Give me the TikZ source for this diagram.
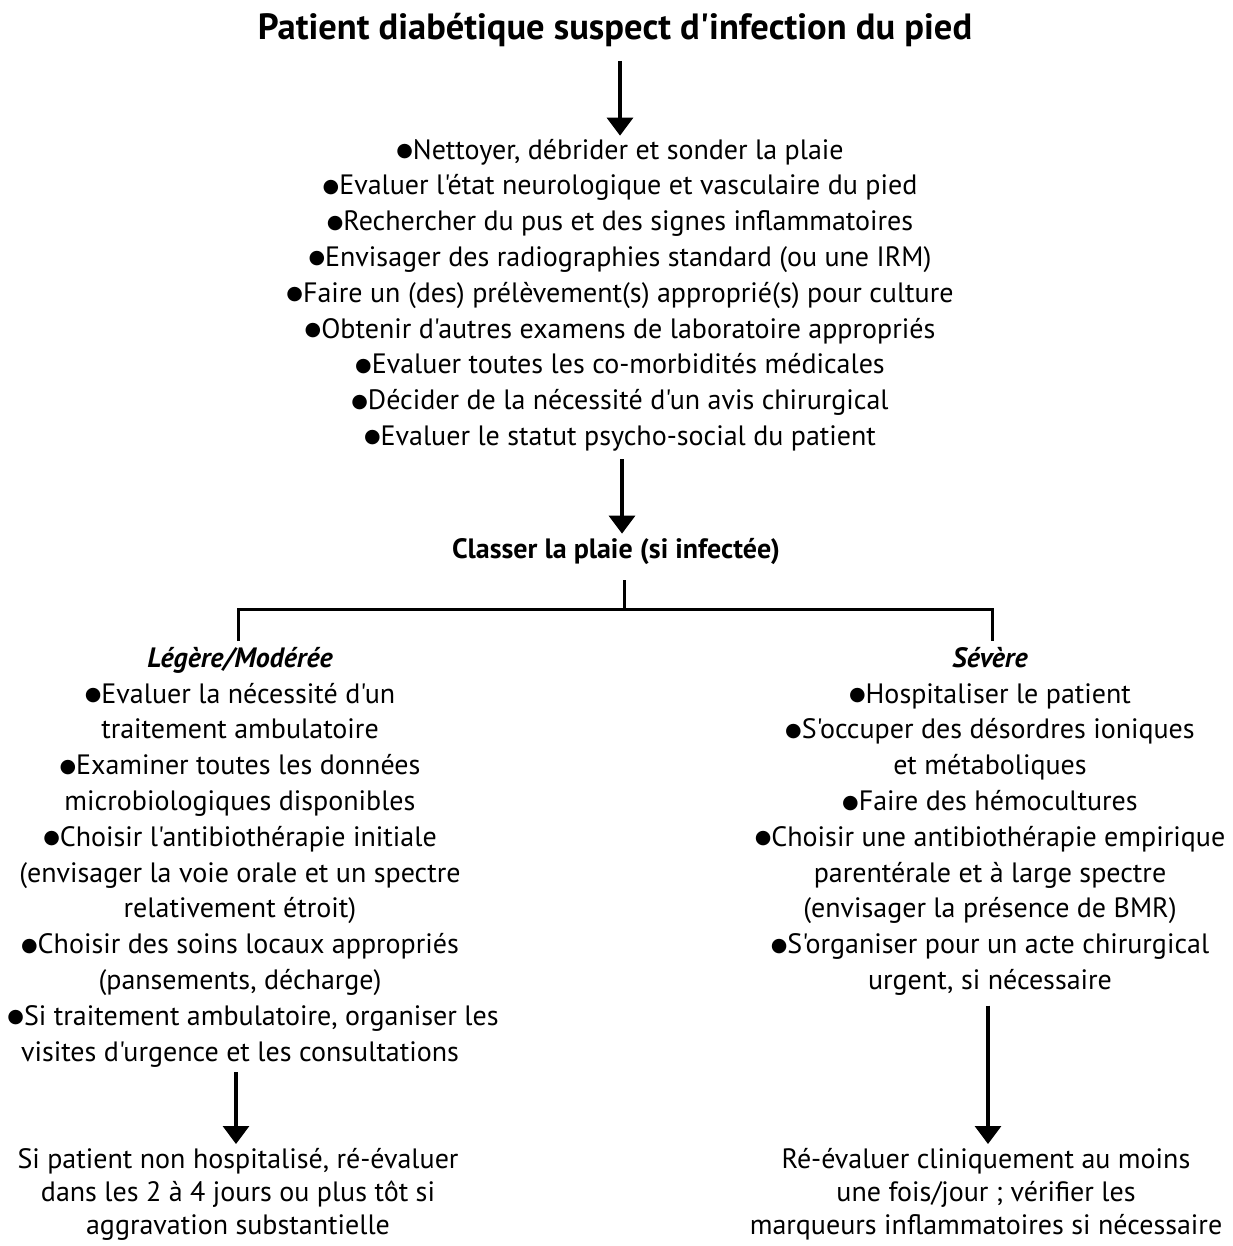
\documentclass[tikz,border=0pt]{standalone}
\usepackage{fontspec}
\setmainfont{PT Sans}[Ligatures=TeXOff]
\newfontfamily\dotfont{DejaVu Sans}
\usetikzlibrary{arrows.meta,positioning}
\newcommand{\bul}{\raisebox{2.5pt}{\dotfont\scalebox{.68}{●}}}

\begin{document}
\begin{tikzpicture}[x=1pt,y=-1pt,
  every node/.style={inner sep=0pt,align=center,font=\fontsize{28}{33}\selectfont},
  wide/.style={font=\fontsize{28}{35.8}\selectfont},
  line/.style={line width=3pt},
  arr/.style={line width=3.2pt,-{Triangle[width=26pt,length=18pt]}}]
  \useasboundingbox (0,0) rectangle (1232,1246);
  \node (title) at (615,30) {\fontsize{36.5}{40}\selectfont\bfseries Patient diabétique suspect d'infection du pied};
  \node [wide] (checks) at (620,295) {\bul Nettoyer, débrider et sonder la plaie\\
    \bul Evaluer l'état neurologique et vasculaire du pied\\
    \bul Rechercher du pus et des signes inflammatoires\\
    \bul Envisager des radiographies standard (ou une IRM)\\
    \bul Faire un (des) prélèvement(s) approprié(s) pour culture\\
    \bul Obtenir d'autres examens de laboratoire appropriés\\
    \bul Evaluer toutes les co-morbidités médicales\\
    \bul Décider de la nécessité d'un avis chirurgical\\
    \bul Evaluer le statut psycho-social du patient};
  \node (classify) at (616,551) {\bfseries Classer la plaie (si infectée)};
  \coordinate (fork) at (624,609);
  \coordinate (forkL) at (238,609);
  \coordinate (forkR) at (992,609);
  \node [wide, anchor=north] (mild) at (240,647) {{\bfseries\itshape Légère/Modérée}\\
    \bul Evaluer la nécessité d'un\\
    traitement ambulatoire\\
    \bul Examiner toutes les données\\
    microbiologiques disponibles\\
    \bul Choisir l'antibiothérapie initiale\\
    (envisager la voie orale et un spectre\\
    relativement étroit)\\
    \bul Choisir des soins locaux appropriés\\
    (pansements, décharge)\\
    \hspace*{26pt}\bul Si traitement ambulatoire, organiser les\\
    visites d'urgence et les consultations};
  \node [wide, anchor=north] (severe) at (990,647) {{\bfseries\itshape Sévère}\\
    \bul Hospitaliser le patient\\
    \bul S'occuper des désordres ioniques\\
    et métaboliques\\
    \bul Faire des hémocultures\\
    \bul Choisir une antibiothérapie empirique\\
    parentérale et à large spectre\\
    (envisager la présence de BMR)\\
    \bul S'organiser pour un acte chirurgical\\
    urgent, si nécessaire};
  \node [anchor=north] (mildnext) at (238,1148) {Si patient non hospitalisé, ré-évaluer\\
    dans les 2 à 4 jours ou plus tôt si\\
    aggravation substantielle};
  \node [anchor=north] (severenext) at (986,1148) {Ré-évaluer cliniquement au moins\\
    une fois/jour ; vérifier les\\
    marqueurs inflammatoires si nécessaire};

  \draw [arr, shorten <=14pt, shorten >=3pt] (checks.north |- title.south) -- (checks.north);
  \draw [arr, shorten <=8pt, shorten >=4pt] ([xshift=2pt]checks.south) -- ([xshift=2pt]checks.south |- classify.north);
  \draw [line, shorten <=16pt] (classify.south -| fork) -- (fork);
  \draw [line] (forkL) ++(0,32) -- (forkL) -- (forkR) -- ++(0,32);
  \draw [arr, shorten <=5pt, shorten >=4pt] ([xshift=-4pt]mild.south) -- ([xshift=-4pt]mild.south |- mildnext.north);
  \draw [arr, shorten <=10pt, shorten >=4pt] ([xshift=2pt]severe.south -| severenext.north) -- ([xshift=2pt]severenext.north);
\end{tikzpicture}
\end{document}
